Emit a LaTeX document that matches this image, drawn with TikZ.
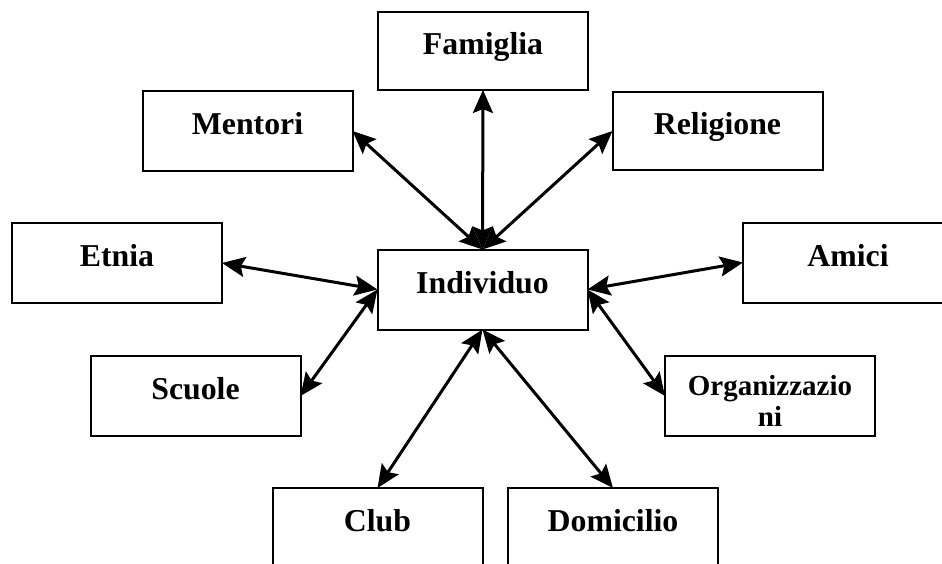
\documentclass[tikz,border=0pt]{standalone}
\usepackage{fontspec}
\setmainfont{Liberation Serif}
\usetikzlibrary{arrows.meta}
\begin{document}
\begin{tikzpicture}[x=1pt,y=-1pt,
  box/.style={draw=black,line width=2pt,fill=white,rectangle,inner sep=0pt,outer sep=0pt,
    minimum width=210pt,minimum height=80pt,text height=16pt,text depth=9pt,
    font=\bfseries\fontsize{31.8}{38}\selectfont},
  link/.style={line width=3pt,{Stealth[length=23pt,width=20pt,inset=4pt]}-{Stealth[length=23pt,width=20pt,inset=4pt]}}]
\useasboundingbox (0,0) rectangle (942,564);
\clip (0,0) rectangle (942,564);
\fill[white] (0,0) rectangle (942,564);

% boxes
\node[box,minimum height=78pt] (fam) at (483,51) {Famiglia};
\node[box] (ment) at (247.5,131) {Mentori};
\node[box,minimum height=78pt] (rel) at (717.5,131) {Religione};
\node[box] (etn) at (117,263) {Etnia};
\node[box] (ind) at (482.5,289.5) {Individuo};
\node[box] (ami) at (848,262.5) {Amici};
\node[box] (scu) at (195.5,396) {Scuole};
\node[box,text height=12pt,text depth=14pt] (org) at (770,396)
  {\fontsize{29}{31}\selectfont\begin{tabular}[t]{@{}c@{}}Organizzazio\\ni\end{tabular}};
\node[box] (club) at (377.5,528) {Club};
\node[box] (dom) at (613,528) {Domicilio};

% connectors
\draw[link] (ind.north) -- (fam.south);
\draw[link] (ind.north) -- (ment.east);
\draw[link] (ind.north) -- (rel.west);
\draw[link] (etn.east) -- (ind.west);
\draw[link] (scu.east) -- (ind.west);
\draw[link] (ind.east) -- (ami.west);
\draw[link] (ind.east) -- (org.west);
\draw[link] (ind.south) -- (club.north);
\draw[link] (ind.south) -- (dom.north);
\end{tikzpicture}
\end{document}
